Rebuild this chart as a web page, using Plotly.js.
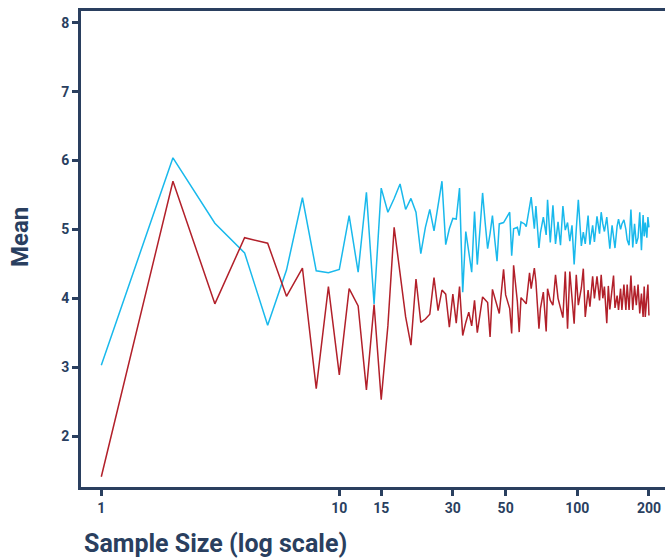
<!DOCTYPE html>
<html>
<head>
<meta charset="utf-8">
<script src="https://cdn.plot.ly/plotly-3.0.1.min.js"></script>
<style>
  html, body { margin: 0; padding: 0; overflow: hidden; background: #ffffff; }
  #chart { width: 672px; height: 559px; }
</style>
</head>
<body>
<div id="chart"></div>
<script>
// ---- Data ----
const sampleSizes = [
  1,2,3,4,5,6,7,8,9,10,11,12,13,14,15,16,17,18,19,20,
  21,22,23,24,25,26,27,28,29,30,31,32,33,34,35,36,37,38,39,40,
  41,42,43,44,45,46,47,48,49,50,
  52,53,54,56,57,58,60,61,63,64,
  66,67,69,70,72,74,75,77,79,81,
  83,85,87,89,91,93,95,97,99,101,
  104,106,108,111,113,116,118,121,124,126,
  128,130,133,135,137,140,142,144,147,149,
  152,154,157,160,162,165,168,171,174,177,
  180,183,186,189,191,193,196,198,200
];

const meanCyan = [
  3.03,6.04,5.09,4.66,3.61,4.41,5.46,4.40,4.37,4.42,
  5.20,4.38,5.54,3.92,5.60,5.25,5.45,5.66,5.29,5.45,
  5.25,4.65,5.03,5.29,4.98,5.35,5.70,4.78,5.01,5.16,
  5.15,5.60,4.09,4.97,4.68,4.38,5.26,4.49,5.00,5.53,
  5.10,4.72,4.94,5.20,4.85,4.54,5.08,5.09,5.10,5.15,
  5.25,4.62,5.01,5.03,4.91,5.11,5.08,5.04,5.30,5.47,
  5.01,5.34,4.73,4.95,5.18,4.92,5.43,4.81,5.35,4.79,
  5.11,4.77,5.34,4.99,5.10,4.83,5.06,4.49,5.00,5.43,
  4.76,4.96,4.79,5.20,4.78,5.06,4.82,5.19,4.94,5.25,
  5.08,4.97,5.18,4.95,4.72,5.06,4.85,4.73,5.05,5.15,
  5.00,5.08,5.14,5.00,4.85,4.77,5.29,4.74,5.08,4.79,
  4.88,5.25,4.70,5.21,4.90,5.10,4.88,5.18,5.03
];

const meanRed = [
  1.41,5.70,3.92,4.88,4.80,4.03,4.44,2.69,4.17,2.89,
  4.14,3.89,2.67,3.91,2.53,3.60,5.03,4.36,3.73,3.32,
  4.28,3.65,3.70,3.77,4.30,3.82,4.12,4.06,3.58,4.06,
  3.64,4.17,3.46,3.65,3.80,3.60,3.97,3.50,3.75,4.02,
  3.98,3.94,3.44,4.13,4.01,3.90,3.78,4.10,4.42,4.05,
  3.85,3.49,4.48,3.95,3.51,4.01,3.94,3.92,4.37,4.14,
  4.44,4.24,3.56,3.85,4.09,3.52,4.14,3.97,3.90,4.34,
  4.00,3.85,3.72,4.39,3.56,4.39,4.00,3.63,4.34,3.90,
  4.15,4.43,3.73,4.12,3.88,4.32,4.00,4.32,3.97,4.34,
  4.00,4.17,3.64,4.18,3.84,4.19,4.33,3.86,4.04,3.83,
  4.14,3.83,4.20,3.83,4.20,3.83,4.33,3.83,4.18,3.90,
  4.20,3.78,4.07,3.73,4.17,3.73,4.02,4.20,3.75
];

const xTickVals = [1, 10, 15, 30, 50, 100, 200];
const xTickText = ['1', '10', '15', '30', '50', '100', '200'];
const yTickVals = [2, 3, 4, 5, 6, 7, 8];

const navy = '#2a3f5f';
const tickFont = { family: 'Roboto, "Open Sans", sans-serif', size: 14, weight: 'bold', color: navy };

const traces = [
  {
    x: sampleSizes, y: meanCyan, type: 'scatter', mode: 'lines',
    line: { color: '#19b9ec', width: 1.5 }, hoverinfo: 'skip', showlegend: false
  },
  {
    x: sampleSizes, y: meanRed, type: 'scatter', mode: 'lines',
    line: { color: '#b2202a', width: 1.5 }, hoverinfo: 'skip', showlegend: false
  }
];

const axisCommon = {
  showline: true, linecolor: navy, linewidth: 3, mirror: true,
  ticks: 'outside', ticklen: 6, tickwidth: 3, tickcolor: navy,
  showgrid: false, zeroline: false, tickfont: tickFont
};

const layout = {
  width: 672, height: 559,
  margin: { l: 81, r: 2, t: 11, b: 72 },
  paper_bgcolor: '#ffffff', plot_bgcolor: '#ffffff',
  showlegend: false,
  xaxis: Object.assign({}, axisCommon, {
    type: 'log', range: [-0.0853, 2.3895],
    tickmode: 'array', tickvals: xTickVals, ticktext: xTickText
  }),
  yaxis: Object.assign({}, axisCommon, {
    range: [1.261, 8.171],
    tickmode: 'array', tickvals: yTickVals
  }),
  annotations: [
    {
      text: 'Sample Size (log scale)', xref: 'paper', yref: 'paper',
      x: 0.002, y: -0.118, xanchor: 'left', yanchor: 'middle', showarrow: false,
      font: { family: 'Roboto, "Open Sans", sans-serif', size: 25, weight: 'bold', color: navy }
    },
    {
      text: 'Mean', xref: 'paper', yref: 'paper', textangle: -90,
      x: -0.1036, y: 0.525, xanchor: 'center', yanchor: 'middle', showarrow: false,
      font: { family: 'Roboto, "Open Sans", sans-serif', size: 24, weight: 'bold', color: navy }
    }
  ]
};

Plotly.newPlot('chart', traces, layout, { displayModeBar: false, staticPlot: true });
</script>
</body>
</html>
